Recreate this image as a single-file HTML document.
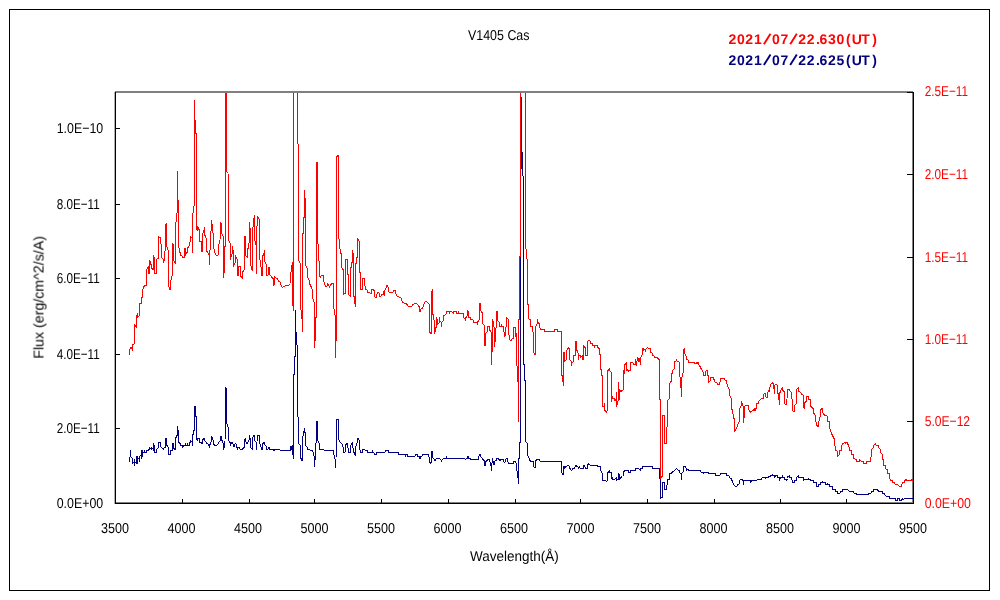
<!DOCTYPE html>
<html><head><meta charset="utf-8"><title>V1405 Cas</title>
<style>
html,body{margin:0;padding:0;background:#fff;}
svg{display:block;font-family:"Liberation Sans",sans-serif;text-rendering:geometricPrecision;}
.ax{fill:#000;font-size:14.3px;}
.rx{fill:#ff0000;font-size:14.3px;}
</style></head><body>
<svg width="1000" height="600" viewBox="0 0 1000 600">
<rect x="0" y="0" width="1000" height="600" fill="#ffffff"/>
<g shape-rendering="crispEdges">
<rect x="9.5" y="9.5" width="980" height="581" fill="none" stroke="#000" stroke-width="1"/>
<!-- plot area grey border -->
<rect x="115" y="91" width="798" height="2" fill="#808080"/>
<rect x="912" y="92" width="1" height="411" fill="#808080"/>
<rect x="114" y="92" width="1" height="412" fill="#b0b0b0"/>
<rect x="115" y="502" width="798" height="1" fill="#808080"/>
</g>
<defs><clipPath id="pc"><rect x="116" y="93" width="797" height="410"/></clipPath></defs>
<g clip-path="url(#pc)" fill="none" stroke-width="1" shape-rendering="crispEdges" stroke-linejoin="bevel">
<path d="M202.5,441.0 L202.9,440.0 L204.2,438.4 L204.8,440.8 L206.1,441.9 L206.7,443.5 L208.0,444.0 L208.8,445.6 L209.3,447.7 L209.9,444.8 L210.9,443.2 L211.5,436.5 L212.8,437.6 L213.3,442.4 L214.4,445.6 L216.0,445.6 L217.6,444.5 L218.9,442.4 L220.0,440.8 L220.5,436.5 L221.3,436.5 L221.8,440.3 L222.9,440.8 L223.5,450.4 L224.0,444.0 L224.5,448.0 L225.0,443.2 L225.4,387.2 L225.9,388.0 L226.5,389.6 L226.7,424.0 L227.7,424.8 L228.2,428.0 L228.8,440.8 L229.8,441.6 L230.4,445.6 L230.9,442.4 L231.7,444.0 L232.2,442.4 L233.0,444.0 L233.6,447.2 L234.4,446.4 L235.2,443.5 L236.5,444.8 L237.3,449.6 L237.9,447.2 L239.2,447.7 L240.0,449.3 L242.4,449.3 L243.5,448.0 L244.3,447.2 L244.8,439.2 L245.6,438.4 L246.1,443.2 L247.7,443.2 L248.3,440.8 L249.0,440.8 L249.4,435.2 L250.2,439.2 L250.7,447.2 L252.2,449.6 L252.6,437.6 L254.1,435.2 L254.7,440.8 L256.0,441.6 L256.5,449.6 L257.0,441.6 L257.3,435.2 L259.5,435.2 L260.0,444.0 L260.8,445.6 L261.4,449.6 L262.4,449.6 L262.9,443.5 L264.3,442.4 L265.0,445.1 L265.9,445.6 L266.4,449.3 L268.0,449.3 L268.5,447.7 L269.4,447.7 L269.9,449.3 L272.8,449.6 L273.9,450.4 L275.2,449.3 L279.5,449.2 L280.1,450.3 L290.2,450.3 L290.7,446.8 L291.8,446.0 L292.3,454.8 L292.8,445.2 L293.2,458.5 L293.5,396.0 L293.5,374.0 L294.5,374.0 L294.5,356.8 L295.4,356.8 L295.4,310.4 L295.4,332.8 L296.4,332.8 L296.4,344.8 L297.5,345.3 L297.5,416.4 L298.5,417.2 L298.7,443.6 L300.1,445.2 L300.6,458.0 L301.4,458.8 L302.2,461.2 L302.5,438.0 L303.8,433.2 L304.3,428.4 L304.9,432.4 L305.4,433.2 L305.7,446.0 L307.0,446.8 L307.8,449.2 L309.9,450.0 L312.6,450.5 L313.4,454.0 L314.2,456.4 L314.5,466.5 L315.0,459.6 L315.8,458.8 L316.3,421.2 L317.4,421.2 L317.7,440.9 L319.0,442.8 L319.5,449.2 L323.8,449.5 L324.3,450.3 L333.4,450.3 L333.9,454.8 L335.0,458.8 L335.5,468.4 L336.0,460.4 L336.4,419.3 L338.5,419.3 L338.8,439.6 L340.3,442.5 L341.9,443.6 L342.5,446.8 L343.2,446.8 L343.5,452.4 L345.1,452.4 L345.4,445.2 L347.0,443.6 L347.8,445.2 L348.3,452.4 L350.2,452.4 L350.5,446.0 L352.1,442.5 L352.8,445.2 L353.4,452.4 L354.7,453.2 L355.3,456.4 L355.8,446.0 L356.9,444.4 L357.4,438.3 L358.5,438.8 L359.2,440.4 L359.8,449.2 L360.4,452.4 L362.2,452.4 L362.7,449.5 L364.6,449.5 L365.1,450.5 L367.0,450.5 L367.5,452.4 L371.8,452.4 L372.3,450.5 L372.9,452.4 L373.9,452.7 L374.2,454.5 L376.3,454.5 L376.8,452.4 L384.6,452.4 L385.7,450.8 L386.7,450.3 L388.3,450.3 L388.8,452.4 L398.2,452.4 L398.7,454.3 L404.9,454.3 L405.4,456.4 L405.9,454.3 L407.2,454.3 L407.5,456.4 L415.0,456.4 L415.5,454.3 L417.4,454.3 L417.9,456.4 L419.0,456.4 L419.5,458.5 L420.6,458.0 L420.9,456.4 L422.2,456.1 L422.5,454.3 L427.8,454.3 L428.9,455.6 L429.4,462.0 L431.0,463.3 L431.3,462.8 L431.6,452.4 L432.4,450.8 L432.9,458.0 L434.0,458.8 L434.5,461.2 L435.6,459.6 L436.4,458.5 L439.6,458.5 L440.4,459.9 L441.2,459.9 L441.5,461.5 L442.0,459.6 L443.6,458.5 L446.0,458.5 L446.3,456.4 L446.8,458.5 L464.9,458.5 L465.5,459.6 L466.2,458.5 L467.1,458.5 L467.4,456.4 L468.4,456.4 L468.9,458.5 L470.0,458.5 L470.8,459.6 L478.0,459.6 L478.8,458.0 L479.3,454.5 L480.4,454.5 L480.9,457.2 L482.0,458.0 L482.8,459.6 L484.1,460.4 L484.4,465.2 L485.4,465.2 L485.7,461.2 L487.0,460.9 L487.6,459.3 L489.5,459.3 L490.0,462.0 L490.8,462.8 L491.3,470.5 L491.8,465.2 L492.4,458.3 L493.0,461.2 L493.7,461.2 L494.0,465.2 L494.6,461.2 L495.9,460.9 L496.6,458.5 L498.0,458.5 L498.5,459.6 L499.8,459.6 L500.1,460.9 L500.7,459.6 L503.3,459.6 L503.9,461.5 L504.6,463.1 L505.5,461.5 L506.2,458.5 L507.6,458.5 L508.1,463.3 L513.2,463.3 L513.7,461.5 L515.6,461.5 L516.1,463.6 L516.7,470.0 L517.7,473.2 L518.4,484.4 L518.6,458.8 L519.3,458.0 L519.5,443.0 L520.5,442.0 L520.5,168.0 L521.5,168.0 L521.5,97.0 L521.5,152.0 L522.5,152.0 L522.5,176.0 L523.5,176.0 L523.5,364.0 L524.5,364.8 L524.5,380.0 L525.5,380.5 L525.5,441.2 L526.8,442.8 L527.6,444.4 L527.9,455.6 L528.9,457.2 L529.2,459.3 L530.5,461.2 L533.2,461.5 L533.7,466.8 L535.0,467.9 L535.3,468.4 L535.6,461.2 L536.9,459.6 L539.1,459.6 L539.8,461.2 L561.5,461.2 L561.8,472.4 L562.5,474.0 L563.3,475.3 L563.8,466.0 L564.7,468.4 L565.4,466.3 L567.3,466.0 L567.9,465.2 L568.9,466.0 L569.5,468.4 L570.5,468.9 L571.3,470.5 L572.4,469.5 L572.9,468.4 L574.8,468.4 L575.3,465.2 L576.4,465.2 L576.9,466.8 L578.2,466.8 L578.8,468.4 L579.3,466.3 L580.4,468.4 L583.5,468.5 L583.5,465.5 L584.5,465.5 L585.5,468.5 L587.5,468.5 L587.5,465.5 L588.5,463.5 L589.5,464.5 L590.5,465.5 L597.5,465.5 L597.5,466.5 L600.5,466.5 L600.5,470.5 L601.5,472.0 L602.5,473.5 L602.5,480.5 L605.5,480.5 L606.5,482.0 L607.5,480.5 L607.5,472.0 L608.5,472.0 L609.5,470.5 L609.5,472.0 L611.5,472.5 L611.5,479.0 L612.5,477.5 L612.5,479.5 L614.5,479.5 L615.5,478.5 L616.5,477.5 L616.5,480.5 L617.5,479.5 L618.5,479.5 L618.5,473.5 L619.5,475.5 L619.5,479.5 L620.5,477.5 L622.5,476.5 L623.5,475.5 L623.5,472.5 L624.5,470.5 L628.5,470.5 L628.5,472.5 L630.5,472.5 L630.5,470.5 L635.5,470.5 L635.5,468.5 L638.5,468.5 L639.5,469.5 L640.5,470.5 L640.5,469.0 L642.5,468.5 L642.5,466.5 L652.5,466.5 L652.5,468.5 L659.5,468.5 L659.5,478.5 L660.5,479.5 L660.5,498.5 L662.5,497.0 L662.5,482.5 L664.5,482.5 L664.5,489.5 L666.5,489.5 L666.5,485.5 L667.5,484.0 L667.5,479.5 L669.5,479.5 L669.5,473.5 L671.5,473.0 L676.5,468.5 L678.5,470.5 L679.5,470.5 L679.5,472.5 L680.2,473.6 L681.1,473.9 L681.6,479.5 L681.9,472.8 L683.0,472.3 L683.5,466.4 L684.8,466.1 L685.9,468.0 L686.9,470.4 L687.5,468.8 L688.5,470.1 L700.0,470.1 L700.8,472.0 L702.9,472.3 L703.5,473.6 L704.0,472.3 L708.0,472.3 L708.8,473.6 L715.2,473.6 L715.7,475.2 L720.0,475.2 L720.5,473.6 L726.4,473.6 L726.9,475.5 L729.1,476.0 L730.4,478.4 L731.2,478.7 L732.8,482.4 L734.4,485.6 L735.2,486.4 L736.8,486.4 L737.6,484.8 L739.2,484.0 L739.7,480.0 L741.6,479.2 L742.9,479.2 L743.2,484.5 L743.7,480.8 L750.4,480.8 L750.9,482.4 L751.5,480.5 L756.8,480.5 L757.6,479.2 L761.6,479.2 L762.1,477.6 L764.8,477.6 L765.3,478.9 L765.9,477.6 L768.0,477.6 L768.8,476.5 L770.4,476.5 L770.5,475.5 L772.5,475.5 L772.5,473.5 L772.5,475.5 L774.5,475.5 L774.5,477.5 L775.5,475.5 L777.5,475.5 L777.5,477.5 L779.5,478.0 L779.5,480.5 L780.5,478.0 L782.5,477.5 L782.5,475.5 L783.0,477.5 L784.5,478.0 L785.0,479.5 L786.5,480.5 L787.5,478.5 L788.0,476.5 L789.5,475.5 L790.0,477.5 L791.5,478.0 L792.0,480.0 L792.5,482.5 L794.5,482.5 L794.5,480.5 L796.5,480.5 L796.5,477.5 L797.5,476.5 L798.5,475.5 L798.5,477.5 L803.5,477.5 L803.5,480.5 L804.5,479.5 L808.5,479.5 L808.5,477.5 L808.5,479.5 L810.5,479.5 L810.5,480.5 L813.5,480.5 L813.5,482.5 L816.5,482.5 L816.5,486.5 L818.5,486.5 L818.5,484.5 L820.5,484.0 L820.5,482.0 L822.5,482.0 L822.5,480.5 L822.5,482.0 L825.5,482.2 L825.5,484.5 L827.5,484.5 L827.5,482.5 L827.5,484.5 L829.5,484.5 L829.5,486.5 L832.5,486.5 L832.5,489.5 L835.5,489.5 L835.5,491.5 L837.5,492.0 L837.5,493.5 L839.5,493.5 L840.5,492.0 L842.5,491.5 L842.5,489.5 L847.5,489.5 L849.5,491.5 L853.5,491.5 L853.5,493.0 L856.5,493.5 L856.5,494.5 L858.5,494.5 L858.5,493.5 L858.5,494.5 L863.5,494.5 L863.5,493.5 L863.5,494.5 L868.5,494.5 L868.5,493.5 L871.5,493.0 L871.5,491.5 L873.5,491.0 L873.5,489.5 L877.5,489.5 L878.5,491.5 L882.5,491.5 L882.5,493.0 L884.5,493.5 L885.5,496.0 L889.5,496.5 L889.5,498.5 L895.5,498.5 L895.5,500.5 L897.5,500.5 L897.5,498.5 L899.5,498.5 L899.5,500.5 L901.5,500.5 L902.5,498.5 L903.5,499.5 L904.5,498.5 L913.5,498.5" stroke="#000080"/>
<path d="M129,457h1v5h-1zM130,450h1v7h-1zM131,457h1v1h-1zM132,458h1v6h-1zM133,462h1v1h-1zM134,459h1v7h-1zM135,462h1v1h-1zM136,456h1v8h-1zM137,456h1v8h-1zM138,458h1v1h-1zM139,456h1v6h-1zM140,455h1v1h-1zM141,450h1v9h-1zM142,450h1v7h-1zM143,452h1v1h-1zM144,450h1v3h-1zM145,452h1v1h-1zM146,450h1v3h-1zM147,450h1v1h-1zM148,449h1v2h-1zM149,447h1v3h-1zM150,448h1v1h-1zM151,447h1v3h-1zM152,448h1v1h-1zM153,443h1v8h-1zM154,445h1v8h-1zM155,452h1v1h-1zM156,449h1v4h-1zM157,448h1v1h-1zM158,442h1v6h-1zM159,442h1v1h-1zM160,442h1v5h-1zM161,447h1v1h-1zM162,448h1v1h-1zM163,448h1v2h-1zM164,447h1v1h-1zM165,438h1v10h-1zM166,438h1v8h-1zM167,445h1v2h-1zM168,447h1v8h-1zM169,454h1v1h-1zM170,450h1v5h-1zM171,450h1v1h-1zM172,443h1v8h-1zM173,443h1v6h-1zM174,448h1v2h-1zM175,437h1v13h-1zM176,435h1v3h-1zM177,426h1v10h-1zM178,430h1v13h-1zM179,442h1v2h-1zM180,443h1v3h-1zM181,445h1v1h-1zM182,445h1v3h-1zM183,445h1v2h-1zM184,445h1v1h-1zM185,443h1v3h-1zM186,445h1v1h-1zM187,443h1v3h-1zM188,445h1v1h-1zM189,442h1v4h-1zM190,440h1v3h-1zM191,441h1v1h-1zM192,434h1v12h-1zM193,430h1v5h-1zM194,406h1v25h-1zM195,406h1v11h-1zM196,416h1v24h-1zM197,438h1v3h-1zM198,438h1v1h-1zM199,438h1v5h-1zM200,442h1v1h-1zM201,442h1v2h-1zM202,439h1v5h-1z" stroke="none" fill="#000080"/>
<path d="M129.5,354.5 L129.5,351.0 L130.5,347.5 L131.5,347.5 L132.5,350.5 L132.5,345.0 L134.5,343.5 L134.5,324.5 L136.5,327.5 L136.5,316.5 L137.5,313.0 L137.5,317.5 L139.5,315.5 L139.5,304.0 L141.5,303.5 L141.5,297.5 L142.5,297.5 L142.5,290.0 L144.5,285.5 L146.2,285.3 L146.5,285.3 L146.5,269.2 L147.5,268.5 L148.5,266.4 L148.5,273.6 L149.5,273.6 L149.5,260.0 L150.5,262.0 L150.5,264.4 L151.5,264.4 L151.5,268.4 L152.5,269.0 L153.5,269.6 L153.5,255.2 L154.5,258.4 L154.5,273.6 L156.5,273.6 L156.5,260.0 L157.5,258.5 L158.5,258.0 L158.5,236.5 L160.6,238.0 L161.4,249.6 L161.7,257.6 L163.0,258.9 L163.5,262.4 L164.9,258.4 L165.4,225.6 L166.5,223.2 L166.8,246.4 L168.3,250.4 L168.6,286.4 L170.4,290.4 L171.0,280.0 L172.3,275.2 L172.6,243.2 L173.6,244.8 L173.9,260.8 L175.5,264.0 L175.8,222.4 L176.8,220.8 L177.1,210.4 L177.5,171.0 L178.0,200.0 L178.7,210.0 L178.7,246.4 L180.6,255.2 L182.2,256.0 L183.0,257.6 L184.5,257.3 L184.5,248.4 L185.5,248.4 L185.5,255.6 L186.5,252.4 L187.5,252.4 L187.5,248.0 L188.9,246.4 L190.2,240.8 L190.8,236.5 L192.3,238.4 L192.4,252.8 L192.8,213.6 L193.7,212.0 L194.3,200.0 L194.3,100.0 L194.3,120.0 L195.3,120.0 L195.3,133.0 L196.4,133.3 L196.4,224.8 L197.1,231.2 L197.6,226.4 L198.5,228.8 L199.3,229.6 L199.8,241.6 L201.4,241.6 L201.6,252.0 L202.4,252.0 L202.5,233.6 L203.8,232.0 L204.4,227.2 L204.9,235.2 L206.2,238.4 L206.5,251.2 L207.8,252.0 L208.6,254.4 L209.4,251.2 L209.6,264.8 L209.9,251.2 L210.7,243.2 L211.3,220.0 L212.3,225.6 L212.9,228.8 L213.4,246.4 L214.5,251.2 L215.5,254.4 L216.8,255.5 L218.2,255.2 L218.7,245.6 L220.0,240.8 L220.4,222.4 L221.2,223.2 L221.7,233.6 L222.5,235.2 L223.5,236.5 L223.5,278.4 L224.5,267.6 L224.5,246.8 L225.5,246.8 L225.5,200.0 L225.5,80.0 L226.6,80.0 L226.6,172.0 L228.0,172.0 L228.4,200.0 L228.5,238.8 L229.5,242.8 L230.5,243.2 L230.5,259.6 L231.5,254.4 L232.5,253.2 L232.5,246.0 L233.5,253.2 L233.5,266.8 L234.5,263.5 L235.5,262.4 L235.5,255.2 L236.5,258.5 L237.5,260.0 L237.5,275.6 L238.5,275.6 L238.5,266.4 L240.5,266.4 L240.5,276.0 L241.5,277.0 L242.5,278.4 L242.5,272.0 L243.5,271.0 L244.5,269.6 L244.5,237.2 L245.5,236.0 L245.5,255.6 L246.5,256.4 L247.5,257.6 L247.5,248.8 L248.5,248.0 L248.5,243.2 L249.5,242.4 L249.5,222.4 L250.2,229.6 L250.7,264.8 L252.3,271.2 L252.6,228.8 L253.7,224.0 L254.2,215.2 L254.8,240.0 L256.1,245.6 L256.6,273.6 L257.1,216.0 L258.5,218.4 L259.5,220.0 L260.0,260.0 L260.9,264.0 L261.4,275.2 L262.4,275.2 L262.5,256.0 L263.8,254.4 L264.4,250.4 L264.8,261.6 L266.0,264.0 L266.5,275.2 L268.1,275.2 L268.3,267.2 L269.6,267.2 L269.9,275.2 L271.3,276.4 L272.4,278.0 L273.2,278.0 L273.5,285.2 L274.3,285.2 L274.5,276.4 L275.6,278.0 L277.2,278.0 L278.8,281.2 L279.9,282.0 L281.2,286.0 L282.5,287.3 L284.1,286.8 L285.7,285.5 L288.4,285.2 L290.0,284.1 L290.5,272.4 L291.6,270.8 L292.2,262.5 L292.5,300.4 L293.5,311.2 L293.5,80.0 L297.5,80.0 L297.5,144.0 L298.5,144.0 L298.5,260.4 L300.4,263.6 L300.9,310.0 L301.5,311.0 L301.5,318.0 L302.5,320.0 L302.5,331.5 L302.5,233.0 L303.5,233.0 L303.5,217.0 L304.5,217.0 L304.5,190.0 L305.5,205.0 L305.5,265.2 L307.1,268.4 L307.8,278.0 L309.2,280.4 L310.3,286.0 L311.9,287.6 L312.9,298.8 L314.0,302.0 L314.5,318.0 L314.5,347.7 L315.6,333.6 L315.6,318.0 L316.5,317.0 L316.5,162.0 L317.5,162.0 L317.7,242.0 L318.8,250.0 L319.3,275.6 L320.4,278.0 L321.2,275.6 L323.1,275.6 L323.6,281.2 L325.2,285.2 L326.3,287.3 L327.9,283.6 L329.5,287.3 L331.6,283.6 L333.5,283.3 L333.7,308.4 L334.8,311.6 L335.3,320.0 L335.3,357.6 L336.4,331.2 L336.4,157.0 L338.5,155.2 L338.8,237.2 L340.4,252.4 L341.2,254.0 L341.5,267.6 L342.5,269.0 L343.5,270.0 L343.5,294.4 L344.5,293.8 L345.5,293.2 L345.5,260.0 L346.5,259.3 L347.5,259.3 L347.5,274.8 L348.5,274.8 L348.5,294.8 L349.5,295.8 L350.5,296.4 L350.5,267.2 L351.5,267.2 L351.5,262.8 L352.5,262.8 L352.5,250.0 L353.5,256.8 L353.5,296.8 L354.5,297.0 L354.5,301.0 L355.5,306.5 L355.5,265.2 L356.5,262.0 L356.5,257.2 L357.5,257.2 L357.5,238.0 L359.3,241.2 L359.6,272.4 L360.6,273.2 L360.7,289.2 L362.5,290.0 L362.8,278.3 L364.4,278.3 L364.7,285.2 L365.7,289.2 L366.8,289.5 L367.6,292.1 L369.2,292.4 L371.1,294.0 L371.6,290.0 L373.2,289.2 L374.3,290.8 L374.8,297.2 L376.4,297.2 L377.2,292.4 L378.8,292.4 L379.6,296.1 L381.2,296.1 L382.0,294.0 L383.3,294.8 L383.9,290.8 L384.2,296.4 L384.9,290.0 L386.0,288.4 L386.5,285.2 L388.1,286.8 L388.4,291.6 L390.0,292.4 L392.9,292.1 L393.5,290.5 L395.1,290.5 L395.8,294.0 L397.2,296.1 L399.6,297.2 L401.2,298.0 L401.5,300.4 L403.1,302.8 L405.2,303.6 L406.8,303.9 L407.6,306.0 L409.2,306.5 L411.6,306.2 L413.2,304.4 L414.8,303.3 L416.4,303.6 L418.0,304.9 L419.3,306.8 L419.8,311.3 L420.7,311.3 L421.2,308.4 L422.8,307.9 L423.6,304.4 L425.2,302.0 L426.8,301.5 L428.4,303.3 L429.4,304.2 L429.4,331.6 L430.4,333.2 L431.4,334.0 L431.5,293.6 L432.5,289.2 L432.5,314.0 L433.4,314.4 L433.4,319.6 L434.5,320.4 L434.5,334.0 L435.5,329.6 L435.5,327.6 L436.5,327.6 L436.5,317.2 L436.5,324.4 L437.5,319.2 L437.5,324.4 L438.5,323.6 L439.5,322.8 L439.5,317.2 L439.5,322.0 L440.5,321.6 L441.5,322.8 L441.5,326.8 L441.5,322.8 L442.5,321.6 L443.5,320.8 L443.5,315.6 L444.5,315.2 L445.5,314.4 L446.5,313.6 L446.5,311.6 L449.5,311.6 L449.5,313.6 L449.5,311.6 L451.6,311.6 L452.5,312.4 L453.5,313.6 L453.5,311.6 L456.5,311.6 L456.5,313.6 L458.5,313.6 L458.5,311.4 L458.5,313.6 L463.5,313.6 L463.5,317.6 L464.5,318.4 L465.5,318.8 L465.5,320.8 L465.5,318.0 L466.5,316.8 L467.5,315.6 L467.5,310.0 L468.5,311.6 L468.5,317.2 L470.5,317.6 L470.5,319.2 L472.5,319.6 L473.5,320.8 L473.5,322.4 L477.5,322.4 L477.5,324.8 L477.5,322.4 L478.5,320.8 L479.5,319.6 L479.5,303.2 L480.5,303.2 L480.5,310.8 L481.5,311.6 L482.5,313.6 L482.5,323.6 L483.5,324.4 L484.5,326.0 L484.5,345.0 L485.5,345.6 L485.5,333.2 L487.5,331.6 L487.5,326.4 L489.5,326.4 L489.5,329.6 L490.5,331.6 L491.5,332.8 L491.5,364.8 L491.5,353.0 L492.5,350.0 L492.5,319.2 L493.5,323.2 L493.5,326.8 L494.5,327.6 L494.5,347.2 L495.5,338.0 L495.5,328.4 L496.5,327.6 L496.5,311.4 L497.5,311.4 L497.5,320.8 L498.5,321.2 L499.5,322.4 L499.5,326.4 L501.5,326.4 L501.5,324.4 L501.5,326.4 L503.5,326.4 L504.4,336.8 L505.8,334.4 L506.3,317.6 L508.2,319.2 L508.5,334.4 L509.5,335.2 L509.8,340.0 L511.4,340.5 L511.9,338.9 L513.3,338.4 L513.6,327.2 L515.4,327.2 L515.7,336.8 L516.0,331.2 L516.5,364.8 L517.4,366.4 L517.4,381.6 L518.4,381.6 L518.4,421.6 L518.4,320.0 L519.5,319.5 L519.5,256.0 L520.5,256.0 L520.5,80.0 L525.5,80.0 L525.5,249.0 L526.5,249.0 L526.5,259.0 L527.5,259.0 L527.5,304.0 L528.7,304.8 L529.0,319.2 L530.6,320.0 L530.9,326.4 L532.2,326.7 L532.7,332.0 L533.5,332.8 L533.8,352.8 L535.4,355.2 L535.7,326.4 L537.0,324.0 L537.5,319.2 L538.3,323.2 L539.4,324.0 L540.2,328.8 L540.5,329.4 L544.5,329.4 L544.5,331.4 L554.5,331.4 L554.5,329.4 L557.5,329.4 L557.5,331.4 L561.5,331.4 L561.5,375.2 L562.5,376.0 L563.4,385.6 L563.4,353.2 L564.5,352.4 L564.5,361.6 L565.5,360.8 L566.5,359.6 L566.5,350.4 L567.5,349.6 L568.5,347.6 L569.5,348.4 L569.5,359.6 L570.5,360.4 L571.5,361.6 L571.5,366.4 L571.5,363.0 L572.5,362.4 L573.5,361.6 L573.5,355.6 L575.5,355.2 L575.5,341.2 L576.5,341.2 L576.5,350.0 L577.5,350.4 L577.5,352.8 L578.5,353.6 L578.5,359.6 L578.5,355.2 L579.5,355.2 L580.5,356.0 L580.5,357.6 L581.5,356.4 L582.5,355.6 L582.5,359.6 L583.5,359.6 L583.5,345.4 L584.5,346.4 L585.5,348.4 L585.5,355.6 L587.5,355.6 L587.5,342.4 L588.5,340.4 L589.5,340.4 L590.5,341.6 L590.5,343.6 L592.5,343.6 L592.5,345.6 L594.5,345.6 L594.5,347.6 L594.5,345.6 L597.5,345.6 L597.5,347.6 L599.5,348.4 L599.5,354.4 L600.5,354.8 L600.5,369.6 L601.5,370.0 L601.5,375.6 L602.5,376.0 L602.5,406.4 L604.5,406.4 L604.5,403.2 L604.5,410.4 L605.5,410.4 L606.5,412.4 L607.5,410.4 L607.5,371.6 L608.5,369.6 L609.5,368.4 L609.5,370.4 L610.5,371.2 L611.5,373.2 L611.5,401.6 L612.5,396.4 L612.5,398.8 L613.5,398.4 L614.5,398.8 L614.5,401.2 L615.5,399.6 L616.5,400.8 L616.5,392.0 L616.5,406.4 L617.5,404.4 L617.5,401.2 L618.5,400.4 L618.5,382.4 L618.5,400.4 L619.5,399.6 L619.5,389.2 L620.5,391.2 L621.5,392.0 L621.8,390.8 L623.5,389.6 L623.5,370.4 L624.5,373.6 L624.5,365.6 L625.6,363.2 L626.5,362.4 L626.5,370.4 L627.5,369.2 L628.5,371.6 L628.8,370.4 L630.5,370.4 L630.5,362.4 L632.0,362.4 L633.6,363.2 L634.1,364.8 L635.2,364.8 L635.5,359.2 L636.3,366.4 L637.3,359.2 L637.9,357.6 L638.9,361.6 L639.5,357.6 L640.3,364.8 L640.8,357.6 L642.1,354.4 L642.4,348.8 L643.4,348.0 L643.7,350.4 L644.8,348.8 L645.3,352.0 L645.9,348.8 L647.5,347.5 L648.5,348.5 L650.1,348.5 L650.6,352.0 L652.0,352.8 L652.8,355.5 L653.9,356.0 L654.6,357.6 L657.6,357.6 L658.4,359.2 L659.4,359.2 L659.7,399.2 L660.5,400.0 L660.5,478.5 L662.5,476.0 L662.5,415.2 L664.5,415.2 L664.5,443.2 L666.5,443.2 L666.5,427.2 L667.5,426.4 L667.5,401.2 L668.5,399.2 L669.5,398.4 L669.5,383.2 L670.5,382.4 L671.5,380.8 L671.5,373.6 L672.5,373.2 L672.5,370.4 L673.5,369.2 L674.5,368.8 L674.5,361.6 L676.0,361.3 L676.5,359.2 L677.3,361.6 L678.9,361.9 L679.5,363.2 L679.8,376.0 L680.8,381.6 L681.3,396.8 L681.6,378.4 L682.7,374.4 L683.2,372.8 L683.5,350.4 L684.5,348.5 L684.8,353.6 L685.9,355.2 L686.4,359.2 L688.0,359.7 L688.5,362.4 L694.4,362.4 L695.2,364.0 L696.2,362.4 L696.8,364.0 L697.8,362.4 L698.4,362.4 L698.7,364.8 L700.0,366.4 L701.6,369.6 L702.9,371.2 L703.5,375.2 L705.3,375.5 L705.8,371.2 L707.2,370.4 L707.7,375.2 L708.3,376.0 L708.6,382.4 L709.9,381.6 L710.4,378.4 L711.2,377.3 L713.6,377.3 L714.4,381.6 L715.7,382.7 L716.8,382.7 L717.6,384.3 L719.2,384.3 L720.0,382.4 L720.5,378.7 L722.4,378.4 L724.0,378.4 L724.8,380.0 L725.9,380.0 L726.9,384.0 L728.0,387.2 L729.1,388.8 L729.8,396.0 L731.2,398.1 L732.0,409.6 L732.8,411.2 L733.3,417.6 L734.4,419.2 L734.6,431.5 L735.0,430.8 L736.9,427.6 L738.5,422.8 L739.3,422.0 L739.6,409.2 L741.1,406.0 L741.6,401.2 L742.4,404.4 L743.0,406.0 L743.3,422.8 L743.8,406.0 L744.3,418.0 L744.9,406.0 L748.6,405.5 L749.1,410.8 L750.7,412.4 L752.3,410.8 L753.4,410.8 L754.2,408.4 L755.0,410.8 L756.1,408.4 L756.6,403.6 L758.2,403.3 L759.0,401.2 L760.6,399.6 L761.9,398.0 L763.0,398.8 L763.5,394.8 L765.1,393.2 L765.7,396.4 L767.0,398.0 L767.5,393.2 L768.6,390.0 L769.4,392.4 L770.2,385.2 L772.3,382.5 L773.7,384.7 L774.4,394.0 L775.0,384.7 L777.1,384.7 L777.6,392.4 L778.5,394.8 L779.0,399.6 L779.5,405.2 L780.1,390.5 L781.7,389.2 L782.4,387.6 L783.0,390.5 L784.3,391.6 L784.9,403.6 L786.2,405.2 L787.0,398.8 L787.5,389.5 L789.4,389.5 L790.2,391.6 L791.3,392.4 L791.8,398.8 L792.3,399.6 L792.6,410.8 L794.2,412.4 L794.7,405.2 L796.1,403.6 L796.6,389.2 L798.4,387.3 L799.0,391.6 L800.6,392.4 L801.4,394.3 L803.0,394.3 L803.5,407.6 L804.3,408.4 L804.8,402.8 L806.2,401.2 L806.7,396.4 L808.3,396.4 L808.8,399.6 L810.2,399.6 L810.7,406.0 L812.1,407.6 L813.1,408.4 L813.7,413.2 L815.0,414.8 L815.8,421.2 L816.6,425.2 L818.2,426.8 L818.7,421.2 L819.8,419.6 L820.6,410.0 L822.2,408.4 L823.0,413.2 L824.3,414.8 L825.4,415.6 L827.0,415.6 L827.5,421.2 L829.1,421.5 L829.7,427.6 L831.0,432.4 L832.6,435.6 L834.2,438.8 L835.0,446.0 L835.5,450.0 L837.5,451.5 L837.5,456.5 L839.5,454.5 L839.5,450.5 L841.5,450.0 L841.5,445.5 L843.0,443.3 L844.6,442.8 L845.4,443.6 L846.2,442.3 L847.5,442.8 L848.3,445.5 L848.5,446.0 L849.5,447.5 L849.5,450.0 L851.5,450.5 L851.5,454.5 L853.5,454.5 L853.5,458.5 L856.5,459.5 L856.5,461.5 L859.5,461.5 L859.5,459.5 L860.5,460.5 L861.5,461.5 L863.5,461.5 L863.5,463.5 L866.5,463.5 L866.5,461.5 L870.5,461.5 L870.5,457.5 L871.5,456.0 L871.5,449.5 L873.5,447.5 L873.5,446.0 L873.9,445.2 L875.5,443.6 L876.1,445.2 L878.2,445.2 L878.5,446.0 L878.5,447.5 L880.5,449.5 L880.5,452.5 L882.5,454.5 L882.5,459.0 L883.5,459.5 L883.5,465.0 L885.5,466.0 L885.5,468.5 L887.5,470.0 L887.5,473.0 L889.5,473.5 L889.5,478.5 L890.5,480.0 L892.5,480.5 L892.5,482.0 L894.5,482.5 L894.5,484.0 L897.5,484.5 L899.5,486.5 L901.5,486.5 L902.0,484.0 L902.5,482.5 L904.5,482.0 L904.5,480.5 L906.5,479.5 L907.0,480.5 L911.5,480.3 L912.0,479.5 L913.5,481.0" stroke="#ff0000"/>
<path d="" stroke="none" fill="#ff0000"/>
</g>
<g shape-rendering="crispEdges" fill="#000">
<rect x="115" y="92" width="1" height="412"/>
<rect x="913" y="92" width="1" height="412"/>
<rect x="115" y="503" width="799" height="1"/>
<rect x="116" y="503" width="4" height="1"/><rect x="116" y="428" width="4" height="1"/><rect x="116" y="354" width="4" height="1"/><rect x="116" y="278" width="4" height="1"/><rect x="116" y="204" width="4" height="1"/><rect x="116" y="128" width="4" height="1"/><rect x="907" y="503" width="6" height="1"/><rect x="907" y="421" width="6" height="1"/><rect x="907" y="339" width="6" height="1"/><rect x="907" y="257" width="6" height="1"/><rect x="907" y="174" width="6" height="1"/><rect x="907" y="92" width="6" height="1"/><rect x="115" y="499" width="1" height="4"/><rect x="182" y="499" width="1" height="4"/><rect x="249" y="499" width="1" height="4"/><rect x="314" y="499" width="1" height="4"/><rect x="381" y="499" width="1" height="4"/><rect x="448" y="499" width="1" height="4"/><rect x="515" y="499" width="1" height="4"/><rect x="580" y="499" width="1" height="4"/><rect x="647" y="499" width="1" height="4"/><rect x="714" y="499" width="1" height="4"/><rect x="780" y="499" width="1" height="4"/><rect x="846" y="499" width="1" height="4"/><rect x="913" y="499" width="1" height="4"/></g>
<g opacity="0.999">
<text x="56.7" y="507.7" textLength="46.5" lengthAdjust="spacingAndGlyphs" class="ax" >0.0E+00</text>
<text x="56.7" y="432.7" textLength="43.0" lengthAdjust="spacingAndGlyphs" class="ax" >2.0E−11</text>
<text x="56.7" y="358.7" textLength="43.0" lengthAdjust="spacingAndGlyphs" class="ax" >4.0E−11</text>
<text x="56.7" y="282.7" textLength="43.0" lengthAdjust="spacingAndGlyphs" class="ax" >6.0E−11</text>
<text x="56.7" y="208.7" textLength="43.0" lengthAdjust="spacingAndGlyphs" class="ax" >8.0E−11</text>
<text x="56.7" y="132.7" textLength="46.5" lengthAdjust="spacingAndGlyphs" class="ax" >1.0E−10</text>
<text x="924.7" y="507.7" textLength="46.3" lengthAdjust="spacingAndGlyphs" class="rx" >0.0E+00</text>
<text x="924.7" y="425.7" textLength="45.4" lengthAdjust="spacingAndGlyphs" class="rx" >5.0E−12</text>
<text x="924.7" y="343.7" textLength="43.4" lengthAdjust="spacingAndGlyphs" class="rx" >1.0E−11</text>
<text x="924.7" y="261.7" textLength="43.4" lengthAdjust="spacingAndGlyphs" class="rx" >1.5E−11</text>
<text x="924.7" y="178.7" textLength="43.4" lengthAdjust="spacingAndGlyphs" class="rx" >2.0E−11</text>
<text x="924.7" y="96" textLength="43.4" lengthAdjust="spacingAndGlyphs" class="rx" >2.5E−11</text>
<text x="101.0" y="533" textLength="28" lengthAdjust="spacingAndGlyphs" class="ax" >3500</text>
<text x="167.5" y="533" textLength="28" lengthAdjust="spacingAndGlyphs" class="ax" >4000</text>
<text x="234.0" y="533" textLength="28" lengthAdjust="spacingAndGlyphs" class="ax" >4500</text>
<text x="300.5" y="533" textLength="28" lengthAdjust="spacingAndGlyphs" class="ax" >5000</text>
<text x="367.0" y="533" textLength="28" lengthAdjust="spacingAndGlyphs" class="ax" >5500</text>
<text x="433.5" y="533" textLength="28" lengthAdjust="spacingAndGlyphs" class="ax" >6000</text>
<text x="500.0" y="533" textLength="28" lengthAdjust="spacingAndGlyphs" class="ax" >6500</text>
<text x="566.5" y="533" textLength="28" lengthAdjust="spacingAndGlyphs" class="ax" >7000</text>
<text x="633.0" y="533" textLength="28" lengthAdjust="spacingAndGlyphs" class="ax" >7500</text>
<text x="699.5" y="533" textLength="28" lengthAdjust="spacingAndGlyphs" class="ax" >8000</text>
<text x="766.0" y="533" textLength="28" lengthAdjust="spacingAndGlyphs" class="ax" >8500</text>
<text x="832.5" y="533" textLength="28" lengthAdjust="spacingAndGlyphs" class="ax" >9000</text>
<text x="899.0" y="533" textLength="28" lengthAdjust="spacingAndGlyphs" class="ax" >9500</text>
<text x="468" y="40" textLength="61.5" lengthAdjust="spacingAndGlyphs" class="ax" >V1405 Cas</text>
<text x="470" y="561" textLength="88.7" lengthAdjust="spacingAndGlyphs" class="ax" >Wavelength(Å)</text>
<g transform="translate(43.5,358.7) rotate(-90)"><text x="0" y="0" textLength="122.7" lengthAdjust="spacingAndGlyphs" class="ax" >Flux (erg/cm^2/s/A)</text>
</g>
<text x="728.5 737 745.2 754 763.4 771.9 780.4 789.7 798.2 806.7 816.1 819.5 828 836.5 845.9 851.8 861.2 872.2" y="44" class="rx" style="font-weight:bold;font-size:14px">2021 07 22.630(UT)</text>
<text x="728.5 737 745.2 754 763.4 771.9 780.4 789.7 798.2 806.7 816.1 819.5 828 836.5 845.9 851.8 861.2 872.2" y="64.8" class="rx" style="font-weight:bold;font-size:14px;fill:#000080">2021 07 22.625(UT)</text>
<line x1="763.9" y1="44.3" x2="770.5" y2="33.7" stroke="#ff0000" stroke-width="1.9"/>
<line x1="790.2" y1="44.3" x2="796.8000000000001" y2="33.7" stroke="#ff0000" stroke-width="1.9"/>
<line x1="763.9" y1="65.1" x2="770.5" y2="54.5" stroke="#000080" stroke-width="1.9"/>
<line x1="790.2" y1="65.1" x2="796.8000000000001" y2="54.5" stroke="#000080" stroke-width="1.9"/>
</g>
</svg></body></html>
